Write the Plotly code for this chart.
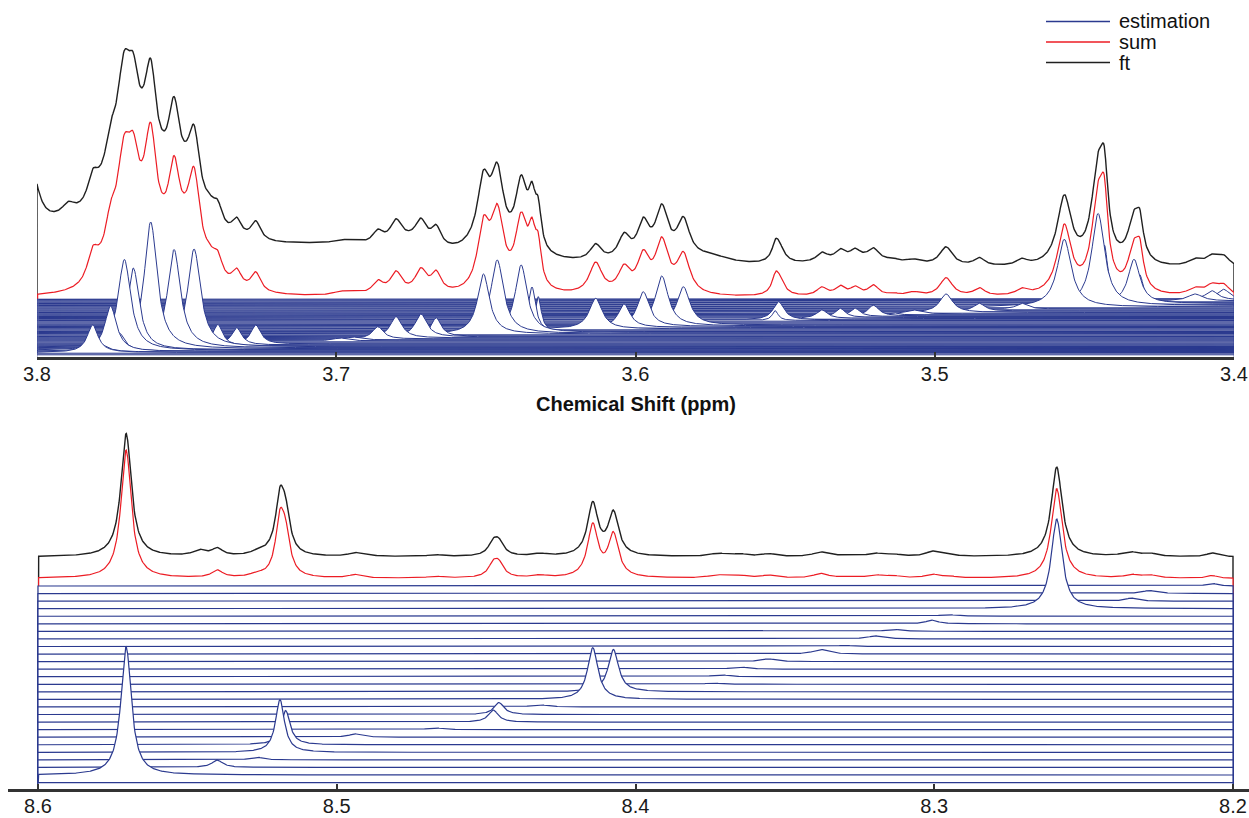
import numpy as np
import plotly.graph_objects as go

BLUE = "#2b3a8f"
RED = "#ec1c24"
BLACK = "#202020"
AXIS = "#333333"
FONT = "Liberation Sans, Arial, Helvetica, sans-serif"

# ---------------- 3.80 - 3.40 ppm window ----------------
# fitted components: centre (ppm), height, half width (ppm), stacking row (0 = lowest)
top_ppm = [3.7814, 3.7790, 3.7754, 3.7725, 3.7708, 3.7678, 3.7650, 3.7620, 3.7580, 3.7542,
           3.7505, 3.7475, 3.7425, 3.7396, 3.7333, 3.7269,
           3.6987, 3.6944, 3.6861, 3.6800, 3.6717, 3.6666,
           3.6508, 3.6462, 3.6382, 3.6346, 3.6325,
           3.6133, 3.6038, 3.5974, 3.5912, 3.5840,
           3.5533, 3.5522, 3.5377, 3.5316, 3.5266, 3.5205, 3.5139, 3.5071,
           3.4962, 3.4851, 3.4709, 3.4567, 3.4454, 3.4433, 3.4334, 3.4314,
           3.4130, 3.4074, 3.4035]
top_height = [27.5, 8.0, 45.5, 18.0, 91.0, 82.0, 18.0, 127.0, 15.0, 98.5,
              16.0, 98.0, 15.0, 21.5, 17.5, 19.0,
              3.0, 3.0, 12.3, 21.3, 23.0, 18.8,
              60.0, 73.5, 67.5, 45.0, 35.0,
              30.7, 23.5, 34.8, 50.0, 38.3,
              9.8, 18.3, 8.5, 9.2, 8.2, 10.7, 2.3, 4.0,
              18.5, 7.7, 5.7, 67.7, 92.0, 60.0, 44.2, 28.0,
              7.0, 9.3, 10.2]
top_hwhm = [0.0022, 0.0030, 0.0024, 0.0022, 0.0026, 0.0024, 0.0026, 0.0026, 0.0026, 0.0026,
            0.0026, 0.0026, 0.0025, 0.0020, 0.0020, 0.0020,
            0.0030, 0.0030, 0.0022, 0.0024, 0.0024, 0.0020,
            0.0024, 0.0026, 0.0024, 0.0015, 0.0012,
            0.0026, 0.0024, 0.0024, 0.0026, 0.0026,
            0.0012, 0.0022, 0.0022, 0.0020, 0.0020, 0.0022, 0.0020, 0.0030,
            0.0026, 0.0022, 0.0022, 0.0028, 0.0026, 0.0014, 0.0024, 0.0013,
            0.0030, 0.0025, 0.0025]
top_row = [5, 6, 7, 8, 9, 10, 11, 12, 13, 14,
           15, 16, 17, 18, 20, 22,
           28, 30, 32, 34, 36, 37,
           42, 43, 45, 46, 47,
           52, 55, 57, 58, 60,
           69, 70, 73, 75, 77, 78, 80, 82,
           85, 88, 92, 96, 99, 100, 103, 104,
           108, 110, 111]
TOP_ROWS = 113

# intensity present in the measured spectrum but not in the fit
top_ft_ppm = [3.8030, 3.8100, 3.7900, 3.7895, 3.7700, 3.7710, 3.7620, 3.7475, 3.7050,
              3.6760, 3.6520, 3.6133, 3.5750, 3.5250]
top_ft_height = [80.0, 50.0, 16.0, 10.0, 40.0, 4.0, -9.0, -14.0, 20.0,
                 8.0, 8.0, -15.0, 8.0, 8.0]
top_ft_hwhm = [0.0030, 0.0080, 0.0100, 0.0025, 0.0180, 0.0030, 0.0030, 0.0030, 0.0450,
               0.0080, 0.0060, 0.0030, 0.0080, 0.0150]

# ---------------- 8.60 - 8.20 ppm window ----------------
# one component per row, listed from the top row downwards
bot_ppm = [8.2070, 8.2280, 8.2340, 8.2590, 8.2953, 8.3008, 8.3137, 8.3198, 8.3300,
           8.3380, 8.3555, 8.3650, 8.3714, 8.3740, 8.4074, 8.4143, 8.4320, 8.4457,
           8.4476, 8.4671, 8.4939, 8.5171, 8.5190, 8.5268, 8.5400, 8.5705, 8.6200]
bot_height = [2.7, 3.0, 3.0, 89.7, 1.7, 3.6, 2.0, 3.0, 1.0,
              4.5, 2.7, 2.3, 2.0, 1.3, 42.3, 51.7, 2.3, 12.0,
              12.0, 1.7, 3.3, 34.3, 52.7, 2.7, 7.3, 128.3, 1.0]
bot_hwhm = [0.0020, 0.0030, 0.0025, 0.0022, 0.0030, 0.0025, 0.0030, 0.0030, 0.0030,
            0.0030, 0.0030, 0.0030, 0.0030, 0.0030, 0.0021, 0.0021, 0.0030, 0.0020,
            0.0020, 0.0030, 0.0025, 0.0018, 0.0018, 0.0025, 0.0022, 0.0021, 0.0020]

bot_ft_ppm = [8.5460, 8.5230, 8.4900, 8.3000, 8.2360, 8.2070, 8.5705]
bot_ft_height = [5.5, 2.0, 1.0, 1.5, 1.5, 1.0, -5.0]
bot_ft_hwhm = [0.0025, 0.0030, 0.0030, 0.0030, 0.0030, 0.0030, 0.0020]


def lorentz(x, c, h, w):
    return h * w * w / ((x - c) ** 2 + w * w)


def patch(xaxis, yaxis, x, y, color, width):
    """Closed outline down to the axis, filled white so lower traces mask upper ones."""
    px = np.concatenate([[x[0]], x, [x[-1]]])
    py = np.concatenate([[0.0], y, [0.0]])
    return go.Scatter(x=px, y=py, mode="lines", fill="toself", fillcolor="white",
                      line=dict(color=color, width=width), xaxis=xaxis, yaxis=yaxis,
                      hoverinfo="skip", showlegend=False)


fig = go.Figure()

# ---- upper panel ----
TOP_STEP = 0.5
TOP_BASE = 2.0
top_sum_base = TOP_BASE + TOP_ROWS * TOP_STEP + 0.5
TOP_FT_SHIFT = 28.0
xt = np.linspace(3.8, 3.4, 1800)

comp_by_row = {}
for c, h, w, r in zip(top_ppm, top_height, top_hwhm, top_row):
    comp_by_row.setdefault(r, []).append((c, h, w))

top_sum = np.zeros_like(xt)
for c, h, w in zip(top_ppm, top_height, top_hwhm):
    top_sum += lorentz(xt, c, h, w)
top_extra = np.zeros_like(xt)
for c, h, w in zip(top_ft_ppm, top_ft_height, top_ft_hwhm):
    top_extra += lorentz(xt, c, h, w)

fig.add_trace(patch("x", "y", xt, top_sum_base + TOP_FT_SHIFT + top_sum + top_extra, BLACK, 1.4))
fig.add_trace(patch("x", "y", xt, top_sum_base + top_sum, RED, 1.2))
for r in range(TOP_ROWS - 1, -1, -1):
    base = TOP_BASE + r * TOP_STEP
    if r in comp_by_row:
        yy = np.full_like(xt, base)
        for c, h, w in comp_by_row[r]:
            yy += lorentz(xt, c, h, w)
        fig.add_trace(patch("x", "y", xt, yy, BLUE, 1.0))
    else:
        fig.add_trace(patch("x", "y", np.array([3.8, 3.4]), np.array([base, base]), BLUE, 0.6))

# ---- lower panel ----
BOT_STEP = 7.56
BOT_TOP_ROW = 203.0
bot_sum_base = BOT_TOP_ROW + BOT_STEP
BOT_FT_SHIFT = 21.5
xb = np.linspace(8.6, 8.2, 1800)

bot_sum = np.zeros_like(xb)
for c, h, w in zip(bot_ppm, bot_height, bot_hwhm):
    bot_sum += lorentz(xb, c, h, w)
bot_extra = np.zeros_like(xb)
for c, h, w in zip(bot_ft_ppm, bot_ft_height, bot_ft_hwhm):
    bot_extra += lorentz(xb, c, h, w)

fig.add_trace(patch("x2", "y2", xb, bot_sum_base + BOT_FT_SHIFT + bot_sum + bot_extra, BLACK, 1.4))
fig.add_trace(patch("x2", "y2", xb, bot_sum_base + bot_sum, RED, 1.2))
for i, (c, h, w) in enumerate(zip(bot_ppm, bot_height, bot_hwhm)):
    base = BOT_TOP_ROW - i * BOT_STEP
    fig.add_trace(patch("x2", "y2", xb, base + lorentz(xb, c, h, w), BLUE, 1.2))

W, H = 1249, 818


def px_x(p):
    return p / W


def px_y(p):
    return 1 - p / H


axis_common = dict(showgrid=False, zeroline=False, showline=True, linecolor=AXIS, linewidth=2.5,
                   ticks="inside", ticklen=5, tickwidth=1.5, tickcolor=AXIS, automargin=False,
                   tickfont=dict(family=FONT, size=20, color="#1a1a1a"),
                   ticklabelstandoff=-3)

fig.update_layout(
    template="none",
    width=W, height=H, margin=dict(l=0, r=0, t=0, b=0, pad=0, autoexpand=False),
    paper_bgcolor="white", plot_bgcolor="white", showlegend=False,
    xaxis=dict(domain=[px_x(37), px_x(1234)], range=[3.8, 3.4], anchor="y",
               tickvals=[3.8, 3.7, 3.6, 3.5, 3.4], ticktext=["3.8", "3.7", "3.6", "3.5", "3.4"],
               **axis_common),
    yaxis=dict(domain=[px_y(357), 1.0], range=[0, 357], visible=False, automargin=False),
    xaxis2=dict(domain=[px_x(8), 1.0], range=[8.6 + 30 / 2987.5, 8.2 - 16 / 2987.5], anchor="y2",
                tickvals=[8.6, 8.5, 8.4, 8.3, 8.2], ticktext=["8.6", "8.5", "8.4", "8.3", "8.2"],
                **axis_common),
    yaxis2=dict(domain=[px_y(789), px_y(425)], range=[0, 364], visible=False, automargin=False),
)

fig.add_annotation(text="<b>Chemical Shift (ppm)</b>", xref="paper", yref="paper",
                   x=px_x(636), y=px_y(404), xanchor="center", yanchor="middle",
                   showarrow=False, font=dict(family=FONT, size=20, color="#111111"))

# legend
for label, color, ypx in [("estimation", BLUE, 21.5), ("sum", RED, 42.0), ("ft", BLACK, 62.5)]:
    fig.add_shape(type="line", xref="paper", yref="paper",
                  x0=px_x(1046), x1=px_x(1110), y0=px_y(ypx), y1=px_y(ypx),
                  line=dict(color=color, width=1.6))
    fig.add_annotation(text=label, xref="paper", yref="paper", x=px_x(1117), y=px_y(ypx),
                       xanchor="left", yanchor="middle", showarrow=False,
                       font=dict(family=FONT, size=20, color="#111111"))

fig.write_html("out.html")
